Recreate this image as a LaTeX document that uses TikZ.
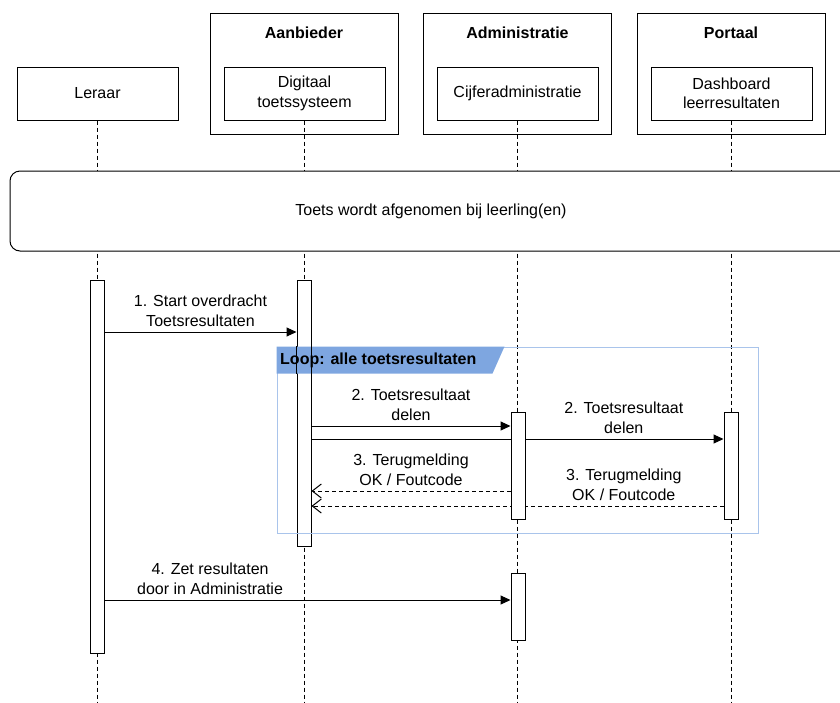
\documentclass[tikz,border=0pt]{standalone}
\usepackage{fontspec}
\setmainfont{Liberation Sans}
\usetikzlibrary{arrows.meta,positioning,backgrounds}

\definecolor{loopline}{HTML}{A9C4EB}
\definecolor{looptab}{HTML}{7EA6E0}

\begin{document}
\begin{tikzpicture}[x=1pt,y=-1pt,
  font=\fontsize{16}{19.5}\selectfont,
  every node/.style={inner sep=0pt},
  actor/.style={draw, line width=1pt, fill=white, align=center, minimum width=161pt, minimum height=53pt},
  group/.style={draw, line width=1pt, minimum width=188pt, minimum height=121pt},
  grouptitle/.style={font=\fontsize{16}{19.5}\selectfont\bfseries},
  lifeline/.style={line width=1pt, dash pattern=on 4pt off 3pt},
  bar/.style={draw, line width=1pt, fill=white, minimum width=14pt},
  msg/.style={line width=1pt, -{Triangle[length=10pt,width=9pt]}},
  reply/.style={line width=1pt, dash pattern=on 4pt off 3pt, -{Straight Barb[length=9pt,width=14pt]}},
  msglabel/.style={align=center, above=5pt}]
\path[use as bounding box, clip] (0,0) rectangle (840,702);
\coordinate (bottom) at (0,702);

% deelnemers
\node[actor] (leraar) at (97.5,93.5) {Leraar};
\node[group] (aanbieder) at (304,73.5) {};
\node[grouptitle] (aanbiedertitle) at (304,33) {Aanbieder};
\node[actor] (toets) at (304.5,93.5) {Digitaal\\toetssysteem};
\node[group] (administratie) at (517.5,73.5) {};
\node[grouptitle] (administratietitle) at (517.5,33) {Administratie};
\node[actor] (cijfer) at (517.5,93.5) {Cijferadministratie};
\node[group] (portaal) at (731,73.5) {};
\node[grouptitle] (portaaltitle) at (731,33) {Portaal};
\node[actor] (dashboard) at (731.5,93.5) {Dashboard\\leerresultaten};

% levenslijnen
\begin{scope}[on background layer]
\draw[lifeline] (leraar.south) -- (leraar.south |- bottom);
\draw[lifeline] (toets.south) -- (toets.south |- bottom);
\draw[lifeline] (cijfer.south) -- (cijfer.south |- bottom);
\draw[lifeline] (dashboard.south) -- (dashboard.south |- bottom);
\end{scope}

\node[draw, line width=1pt, rounded corners=10pt, fill=white, minimum width=842pt, minimum height=80pt] (afname) at (431,211) {Toets wordt afgenomen bij leerling(en)};

% activaties
\node[bar, minimum height=373pt] (lerbar) at (97,466.5) {};
\node[bar, minimum height=266pt] (toetsbar) at (304,413) {};
\node[bar, minimum height=107pt] (cijferbar) at (518,465.5) {};
\node[bar, minimum height=107pt] (dashbar) at (731,465.5) {};
\node[bar, minimum height=67pt] (cijferbarb) at (518,606.5) {};

% loop
\node[draw=loopline, line width=1pt, minimum width=481pt, minimum height=186pt] (loop) at (517.5,440) {};
\fill[looptab] (loop.north west) -- ++(228,0) -- ++(-12,27) -- ++(-216,0) -- cycle;
\begin{scope}
\clip (loop.north west) rectangle ++(228,27);
\draw[line width=1pt] (toetsbar.north west) rectangle (toetsbar.south east);
\end{scope}
\node[grouptitle, anchor=west] (looptitle) at (280,360.5) {Loop: alle toetsresultaten};

% berichten
\coordinate (m1) at (0,332);
\coordinate (m2) at (0,426);
\coordinate (m3) at (0,439);
\coordinate (m4) at (0,491);
\coordinate (m5) at (0,506);
\coordinate (m6) at (0,600);
\draw[msg] (lerbar.east |- m1) -- node[msglabel] {1. Start overdracht\\Toetsresultaten} (toetsbar.west |- m1);
\draw[msg] (toetsbar.east |- m2) -- node[msglabel] {2. Toetsresultaat\\delen} (cijferbar.west |- m2);
\draw[reply] (cijferbar.west |- m4) -- node[msglabel] {3. Terugmelding\\OK / Foutcode} (toetsbar.east |- m4);
\begin{scope}[on background layer]
\draw[msg] (toetsbar.east |- m3) -- node[msglabel, pos=0.758] {2. Toetsresultaat\\delen} (dashbar.west |- m3);
\draw[reply] (dashbar.west |- m5) -- node[msglabel, pos=0.242] {3. Terugmelding\\OK / Foutcode} (toetsbar.east |- m5);
\end{scope}
\draw[msg] (lerbar.east |- m6) -- node[msglabel, pos=0.26] {4. Zet resultaten\\door in Administratie} (cijferbarb.west |- m6);
\end{tikzpicture}
\end{document}
